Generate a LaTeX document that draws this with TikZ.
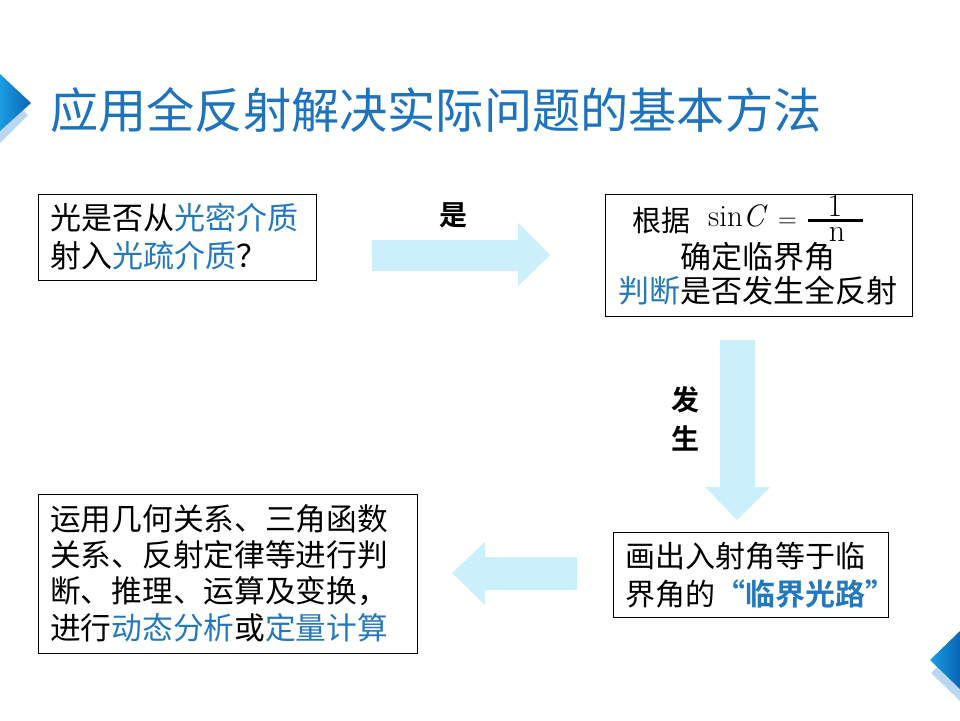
\documentclass[tikz,border=0pt]{standalone}
\usepackage{fontspec}
\newfontfamily\cjk{Noto Sans CJK SC}
\newfontfamily\cjkbold{Noto Sans CJK SC Bold}
\definecolor{tblue}{HTML}{1E73BE}
\definecolor{wblue}{HTML}{2378C0}
\definecolor{arrowblue}{HTML}{CCEFFC}
\definecolor{decdark}{HTML}{0A63B5}
\definecolor{decmid}{HTML}{1A9DE2}
\definecolor{declight}{HTML}{B9D7EF}
\begin{document}
\begin{tikzpicture}[x=1pt,y=-1pt,
  box/.style={draw=black,line width=1pt,inner sep=0pt},
  line/.style={anchor=west,inner sep=0pt,font=\cjk\fontsize{31}{31}\selectfont},
  lbl/.style={inner sep=0pt,font=\cjkbold\fontsize{28}{28}\selectfont},
  blockarrow/.style={fill=arrowblue,draw=none}]
\useasboundingbox (0,0) rectangle (960,720);
\fill[white] (0,0) rectangle (960,720);
% decorations
\fill[declight] (0,88) -- (28,115) -- (0,143) -- cycle;
\shade[left color=decmid,right color=decdark] (0,74) -- (31,103) -- (0,131) -- cycle;
\fill[declight] (960,644) -- (931,673) -- (960,701) -- cycle;
\shade[left color=decmid,right color=decdark] (960,631) -- (930,660) -- (960,689) -- cycle;
% title
\node[anchor=west,inner sep=0pt,text=tblue,font=\cjk\fontsize{48.2}{48.2}\selectfont] (title) at (50,110) {应用全反射解决实际问题的基本方法};
% boxes
\node[box,minimum width=278pt,minimum height=86pt,anchor=north west] (b1) at (38,194) {};
\node[box,minimum width=307pt,minimum height=122pt,anchor=north west] (b2) at (605,194) {};
\node[box,minimum width=275pt,minimum height=85pt,anchor=north west] (b3) at (613,532) {};
\node[box,minimum width=379pt,minimum height=159pt,anchor=north west] (b4) at (38,494) {};
% box 1 text
\node[line] (b1l1) at (50,218) {光是否从\textcolor{wblue}{光密介质}};
\node[line] (b1l2) at (50,256) {射入\textcolor{wblue}{光疏介质}？};
% box 2 text
\node[line,font=\cjk\fontsize{29}{29}\selectfont] (b2l1) at (632,220) {根据};
\node[anchor=base west,inner sep=0pt,font=\fontsize{31}{31}\selectfont] (sinc) at (708,226) {sin\textit{C}};
\node[anchor=base west,inner sep=0pt,font=\fontsize{26}{26}\selectfont] (eq) at (778,227) {=};
\node[anchor=base,inner sep=0pt,font=\fontsize{32}{32}\selectfont] (num) at (835,216) {1};
\node[anchor=base,inner sep=0pt,font=\fontsize{32}{32}\selectfont] (den) at (837,241) {n};
\draw[line width=3pt] (808,220) -- (863,220);
\node[inner sep=0pt,font=\cjk\fontsize{31}{31}\selectfont] (b2l2) at (758,257) {确定临界角};
\node[line] (b2l3) at (618,291) {\textcolor{wblue}{判断}是否发生全反射};
% box 3 text
\node[line,font=\cjk\fontsize{30}{30}\selectfont] (b3l1) at (625,556) {画出入射角等于临};
\node[line,font=\cjk\fontsize{30}{30}\selectfont] (b3l2) at (625,594) {界角的\textcolor{wblue}{\cjkbold “临界光路”}};
% box 4 text
\node[line,font=\cjk\fontsize{30.7}{30.7}\selectfont] (b4l1) at (50,519) {运用几何关系、三角函数};
\node[line,font=\cjk\fontsize{30.7}{30.7}\selectfont] (b4l2) at (50,555) {关系、反射定律等进行判};
\node[line,font=\cjk\fontsize{30.7}{30.7}\selectfont] (b4l3) at (50,591) {断、推理、运算及变换，};
\node[line,font=\cjk\fontsize{30.7}{30.7}\selectfont] (b4l4) at (50,628) {进行\textcolor{wblue}{动态分析}或\textcolor{wblue}{定量计算}};
% block arrows
\fill[blockarrow] (372,240) -- (518,240) -- (518,223) -- (550,255) -- (518,286) -- (518,271) -- (372,271) -- cycle;
\fill[blockarrow] (720,340) -- (755,340) -- (755,487) -- (770,487) -- (737,520) -- (705,487) -- (720,487) -- cycle;
\fill[blockarrow] (577,557) -- (485,557) -- (485,542) -- (452,573) -- (485,605) -- (485,590) -- (577,590) -- cycle;
% labels
\node[lbl] (yes) at (453,215) {是};
\node[lbl] (fa) at (685,400) {发};
\node[lbl] (sheng) at (685,438) {生};
\end{tikzpicture}
\end{document}
